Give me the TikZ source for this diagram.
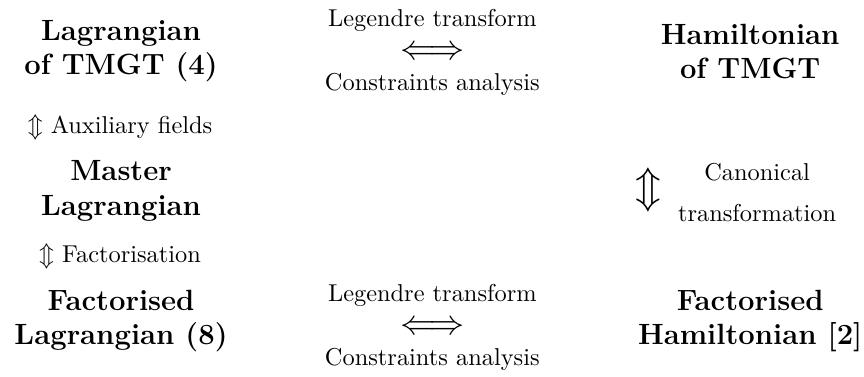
\documentclass[tikz,border=0pt]{standalone}
\usepackage{amsmath}
\begin{document}
\begin{tikzpicture}[every node/.style={inner sep=1pt}]
\tikzstyle{theory} = [align=center, font=\large\bfseries]
\tikzstyle{link} = [align=center]
\tikzstyle{equiv} = [font=\Large, inner sep=0pt, text height=7.2pt, text depth=0pt]

\useasboundingbox (0,0) rectangle (12.45,5.43);

% Theories
\node (lagtmgt) [theory] at (1.744,4.69) {Lagrangian\\of TMGT (4)};
\node (hamtmgt) [theory] at (10.81,4.69) {Hamiltonian\\of TMGT};
\node (master) [theory] at (1.744,2.68) {Master\\Lagrangian};
\node (factlag) [theory] at (1.744,0.81) {Factorised\\Lagrangian (8)};
\node (factham) [theory] at (10.81,0.81) {Factorised\\Hamiltonian [2]};

% Relations
\node (legtop) [link] at (6.23,5.13) {Legendre transform};
\node (eqtop) [equiv] at (6.23,4.70) {$\Longleftrightarrow$};
\node (contop) [link] at (6.23,4.21) {Constraints analysis};
\node (legbot) [link] at (6.23,1.17) {Legendre transform};
\node (eqbot) [equiv] at (6.23,0.74) {$\Longleftrightarrow$};
\node (conbot) [link] at (6.23,0.245) {Constraints analysis};
\node (aux) at (1.73,3.59) {$\Updownarrow$ Auxiliary fields};
\node (fact) at (1.73,1.73) {$\Updownarrow$ Factorisation};
\node (canarrow) at (9.34,2.69) {\LARGE$\Updownarrow$};
\node (canon) at (10.91,2.95) {Canonical};
\node (transf) at (10.91,2.36) {transformation};
\end{tikzpicture}
\end{document}
